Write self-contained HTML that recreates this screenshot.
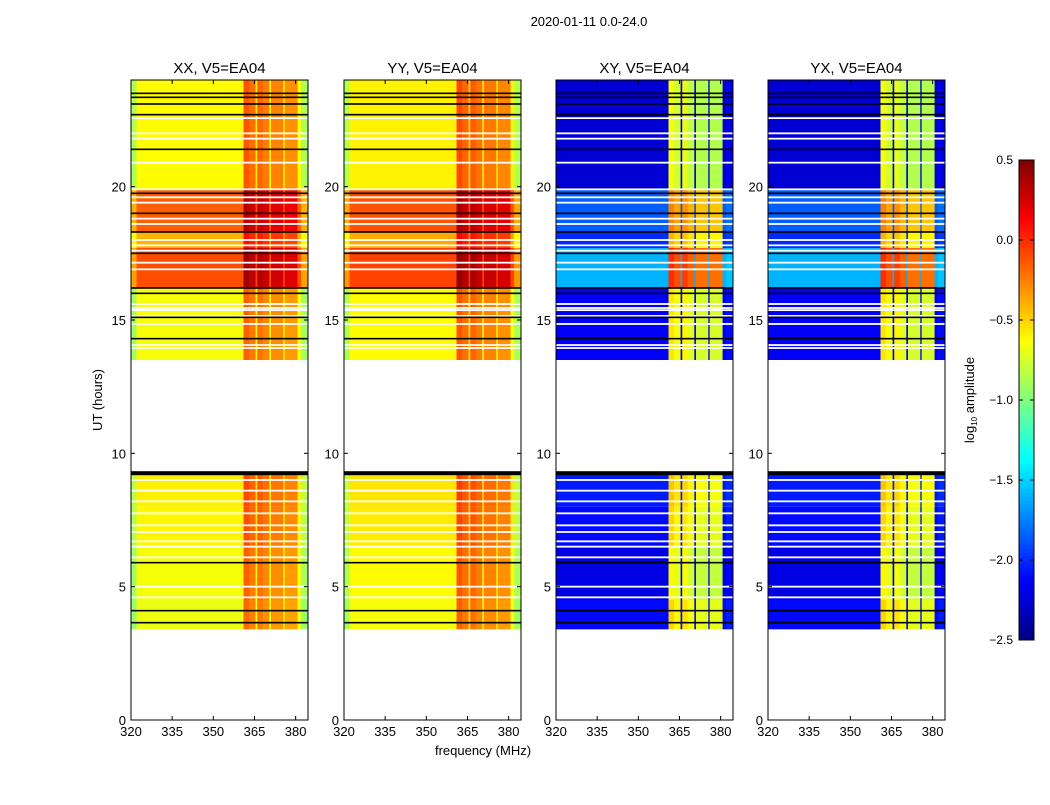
<!DOCTYPE html>
<html><head><meta charset="utf-8"><style>
body{margin:0;background:#fff;}
svg text{font-family:"Liberation Sans",sans-serif;}
</style></head><body>
<svg id="fig" width="1050" height="800" xmlns="http://www.w3.org/2000/svg">
<rect width="1050" height="800" fill="#fff"/>
<text x="589" y="26" font-size="13" text-anchor="middle">2020-01-11 0.0-24.0</text>
<text x="483" y="755" font-size="13" text-anchor="middle">frequency (MHz)</text>
<text transform="translate(102,400) rotate(-90)" font-size="13" text-anchor="middle">UT (hours)</text>
<g id="panels"></g>
<g id="cbar"></g>
</svg>
<script>
// ---- data ----
const panelTitles = ["XX, V5=EA04","YY, V5=EA04","XY, V5=EA04","YX, V5=EA04"];
const panelKinds = ["par","par","cross","cross"];
const segStart = [3.4,4.5,6.5,8.0,13.5,16.2,17.7,18.3,19.9];
const segEnd   = [4.5,6.5,8.0,9.3,16.2,17.7,18.3,19.9,24.0];
const parLevel = [-0.68,-0.65,-0.6,-0.58,-0.65,-0.1,-0.4,-0.15,-0.62];
const crossLevel = [-2.1,-2.2,-2.1,-2.05,-2.15,-1.6,-2.0,-1.85,-2.25];
const freqStart = [320,322,361,363,365.4,366,368,370.4,371,375.5,376,380.7,382];
const freqEnd   = [322,361,363,365.4,366,368,370.4,371,375.5,376,380.7,382,384.5];
const parOffset = [-0.25,0,0.5,0.42,0.05,0.45,0.38,0.0,0.36,0.0,0.32,0,-0.25];
const crossOffset = [0,0,1.6,1.5,0,1.55,1.45,0,1.4,0,1.4,0,0.05];
const blackLines = [23.5,23.35,23.1,22.7,21.4,19.75,19.0,18.3,17.5,16.2,16.0,15.1,14.3,9.3,5.9,4.1,3.65];
const whiteLines = [22.57,22.0,21.8,20.9,19.9,19.6,19.4,18.8,18.6,18.0,17.8,17.6,17.15,16.9,15.6,15.45,15.37,15.15,14.85,14.06,13.95,9.0,8.6,8.2,7.75,7.3,7.05,6.7,6.5,6.1,5.0,4.6];
const xTicks = [320,335,350,365,380];
const yTicks = [0,5,10,15,20];
const cbTicks = [-2.5,-2.0,-1.5,-1.0,-0.5,0.0,0.5];
// ---- layout ----
const NS="http://www.w3.org/2000/svg";
const panelLeft=[131,344,556,768], PW=177, PT=80, PH=640;
const fmin=320,fmax=384.5,tmin=0,tmax=24,vmin=-2.5,vmax=0.5;
function jet(v){
  let t=(v-vmin)/(vmax-vmin); t=Math.max(0,Math.min(1,t));
  const c=x=>Math.round(255*Math.max(0,Math.min(1,x)));
  const r=c(1.5-Math.abs(4*t-3)), g=c(1.5-Math.abs(4*t-2)), b=c(1.5-Math.abs(4*t-1));
  return `rgb(${r},${g},${b})`;
}
function mk(tag,attrs,parent){const e=document.createElementNS(NS,tag);for(const k in attrs)e.setAttribute(k,attrs[k]);parent.appendChild(e);return e;}
const root=document.getElementById('panels');
panelTitles.forEach((title,p)=>{
  const L=panelLeft[p];
  const xs=f=>L+(f-fmin)/(fmax-fmin)*PW;
  const ys=h=>PT+PH-(h-tmin)/(tmax-tmin)*PH;
  const g=mk('g',{},root);
  
  
  const cross=panelKinds[p]==="cross";
  for(let s=0;s<segStart.length;s++){
    for(let f=0;f<freqStart.length;f++){
      const v=cross?crossLevel[s]+crossOffset[f]:parLevel[s]+parOffset[f]+(p===1?0.03:0);
      const r=mk('rect',{x:xs(freqStart[f]),y:ys(segEnd[s]),width:xs(freqEnd[f])-xs(freqStart[f])+0.3,height:ys(segStart[s])-ys(segEnd[s]),fill:jet(v)},g);
      
      
    }
  }
  whiteLines.forEach(h=>{const r=mk('rect',{x:L,y:ys(h)-0.9,width:PW,height:1.8,fill:'#fff'},g);
    
    });
  blackLines.forEach(h=>{const r=mk('rect',{x:L,y:ys(h)-0.8,width:PW,height:h===9.3?4:1.6,fill:'#000'},g);
    
    });
  const fr=mk('rect',{x:L,y:PT,width:PW,height:PH,fill:'none',stroke:'#000','stroke-width':1},g);
  
  
  const tt=mk('text',{x:L+PW/2,y:PT-7,'font-size':15,'text-anchor':'middle'},g);tt.textContent=title;
  
  
  xTicks.forEach(v=>{const x=xs(v);
    mk('line',{x1:x,x2:x,y1:PT+PH,y2:PT+PH-4,stroke:'#000'},g);
    mk('line',{x1:x,x2:x,y1:PT,y2:PT+4,stroke:'#000'},g);
    const t=mk('text',{x:x,y:PT+PH+16,'font-size':13,'text-anchor':'middle'},g);t.textContent=v;
    
    });
  yTicks.forEach(v=>{const y=ys(v);
    mk('line',{x1:L,x2:L+4,y1:y,y2:y,stroke:'#000'},g);
    mk('line',{x1:L+PW,x2:L+PW-4,y1:y,y2:y,stroke:'#000'},g);
    const t=mk('text',{x:L-5,y:y+5,'font-size':13,'text-anchor':'end'},g);t.textContent=v;
    
    });
});
// colorbar
const cb=document.getElementById('cbar');
const CX=1019,CW=15,CT=160,CH=480;
const cy=v=>CT+CH-(v-vmin)/(vmax-vmin)*CH;
for(let i=0;i<120;i++){const v0=vmin+(vmax-vmin)*i/120,v1=vmin+(vmax-vmin)*(i+1)/120;
  const r=mk('rect',{x:CX,y:cy(v1),width:CW,height:cy(v0)-cy(v1)+0.5,fill:jet((v0+v1)/2)},cb);
  
  }
const cf=mk('rect',{x:CX,y:CT,width:CW,height:CH,fill:'none',stroke:'#000'},cb);


cbTicks.forEach(v=>{const y=cy(v);
  mk('line',{x1:CX,x2:CX+4,y1:y,y2:y,stroke:'#000'},cb);
  mk('line',{x1:CX+CW,x2:CX+CW-4,y1:y,y2:y,stroke:'#000'},cb);
  const t=mk('text',{x:CX-6,y:y+4,'font-size':12,'text-anchor':'end'},cb);
  t.textContent=(v<0?'\u2212':'')+Math.abs(v).toFixed(1);
  
  });
const cl=mk('text',{transform:'translate(974,400) rotate(-90)','font-size':13,'text-anchor':'middle'},cb);
cl.innerHTML='log<tspan font-size="8" dy="3">10</tspan><tspan dy="-3"> amplitude</tspan>';


</script>
</body></html>
